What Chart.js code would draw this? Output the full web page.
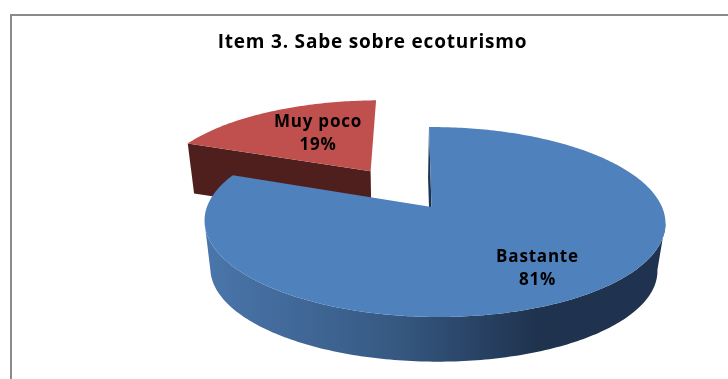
<!DOCTYPE html>
<html>
<head>
<meta charset="utf-8">
<style>
  html, body { margin: 0; padding: 0; background: #fff; }
  #frame { position: absolute; left: 10px; top: 14px; width: 718px; height: 365px; border-top: 2px solid #8a8a8a; border-left: 2px solid #8a8a8a; box-sizing: border-box; }
  #wrap { position: absolute; left: 0; top: 0; width: 728px; height: 379px; }
</style>
</head>
<body>
<div id="frame"></div>
<div id="wrap"><canvas id="c" width="728" height="379"></canvas></div>
<script src="https://cdn.jsdelivr.net/npm/chart.js@4"></script>
<script>
const categories = ['Bastante', 'Muy poco'];
const percentages = [81, 19];
const sliceColors = ['#4f81bd', '#c0504d'];
const explode = [0, 63];

// Perspective view of the pie's plane, tilted back like a 3D office chart.
const view = { x: 431.5, y: 207, a: 227.5, b: 92.6, skew: 2.9, p: 0.158, q: 0.013, depth: 48, shrink: 0.97, lowerShift: -1 };

function project(u, v, lower) {
  const w = 1 - view.p * v - view.q * u;
  const s = lower ? view.shrink : 1;
  return {
    x: view.x + (lower ? view.lowerShift : 0) + s * (view.a * u + view.skew * v) / w,
    y: view.y + (lower ? view.depth : 0) + s * view.b * v / w
  };
}

// Chart.js angles run clockwise from +x, which lines up with +u right and +v toward the viewer.
function rimPoint(theta, cu, cv, lower) {
  return project(cu + Math.cos(theta), cv + Math.sin(theta), lower);
}

function tracePath(ctx, pts) {
  ctx.beginPath();
  pts.forEach((p, i) => (i ? ctx.lineTo(p.x, p.y) : ctx.moveTo(p.x, p.y)));
  ctx.closePath();
}

function arcSamples(start, end) {
  const n = Math.max(8, Math.ceil((end - start) * 60));
  const out = [];
  for (let i = 0; i <= n; i++) out.push(start + (end - start) * i / n);
  return out;
}

const wallFill = {
  0(ctx) {
    const g = ctx.createLinearGradient(205, 0, 665, 0);
    g.addColorStop(0, '#4a76ab');
    g.addColorStop(0.4, '#375a84');
    g.addColorStop(0.72, '#1f334f');
    g.addColorStop(1, '#1f3350');
    return g;
  },
  1() { return '#4f1f1d'; }
};
const edgeWallColors = ['#1f3350', '#4f1f1d'];

const pie3d = {
  id: 'pie3d',
  beforeDraw(chart) {
    chart.ctx.letterSpacing = '0.8px';
  },
  beforeDatasetDraw(chart, args) {
    const { ctx } = chart;
    const arcs = chart.getDatasetMeta(args.index).data;
    // Farther slice first so the large slice overlaps it.
    [1, 0].forEach(i => {
      const el = arcs[i];
      const mid = (el.startAngle + el.endAngle) / 2;
      const e = el.options.offset / el.outerRadius;
      const cu = e * Math.cos(mid), cv = e * Math.sin(mid);
      const thetas = arcSamples(el.startAngle, el.endAngle);
      const topRim = thetas.map(t => rimPoint(t, cu, cv, false));
      const apexTop = project(cu, cv, false);
      const apexLow = project(cu, cv, true);
      ctx.save();

      // Outer wall: only the part of the rim that faces the viewer.
      const facing = thetas.filter(t => Math.sin(t) >= view.p);
      if (facing.length > 1) {
        const upper = facing.map(t => rimPoint(t, cu, cv, false));
        const lower = facing.map(t => rimPoint(t, cu, cv, true));
        ctx.fillStyle = wallFill[i](ctx);
        tracePath(ctx, upper.concat(lower.reverse()));
        ctx.fill();
      }

      // Cut face along the slice's starting radius.
      ctx.fillStyle = edgeWallColors[i];
      tracePath(ctx, [apexTop, topRim[0], rimPoint(thetas[0], cu, cv, true), apexLow]);
      ctx.fill();

      // Top face
      ctx.fillStyle = el.options.backgroundColor;
      tracePath(ctx, [apexTop].concat(topRim));
      ctx.fill();
      ctx.restore();
    });
    return false;
  },
  afterDatasetsDraw(chart) {
    const { ctx } = chart;
    ctx.save();
    ctx.fillStyle = '#000';
    ctx.font = 'bold 17px "Open Sans"';
    ctx.textAlign = 'center';
    ctx.textBaseline = 'middle';
    const pos = [{ x: 537.5, y: 257 }, { x: 318, y: 122 }];
    const lineGap = 23;
    categories.forEach((name, i) => {
      ctx.fillText(name, pos[i].x, pos[i].y);
      ctx.fillText(percentages[i] + '%', pos[i].x, pos[i].y + lineGap);
    });
    ctx.restore();
  }
};

new Chart(document.getElementById('c'), {
  type: 'pie',
  data: {
    labels: categories,
    datasets: [{
      data: percentages,
      backgroundColor: sliceColors,
      offset: explode,
      borderWidth: 0
    }]
  },
  options: {
    responsive: false,
    animation: false,
    layout: { padding: { left: 17 } },
    plugins: {
      legend: { display: false },
      tooltip: { enabled: false },
      title: {
        display: true,
        text: 'Item 3. Sabe sobre ecoturismo',
        color: '#000',
        font: { family: '"Open Sans"', size: 19, weight: 'bold' },
        padding: { top: 31, bottom: 10 }
      }
    }
  },
  plugins: [pie3d]
});
</script>
</body>
</html>
